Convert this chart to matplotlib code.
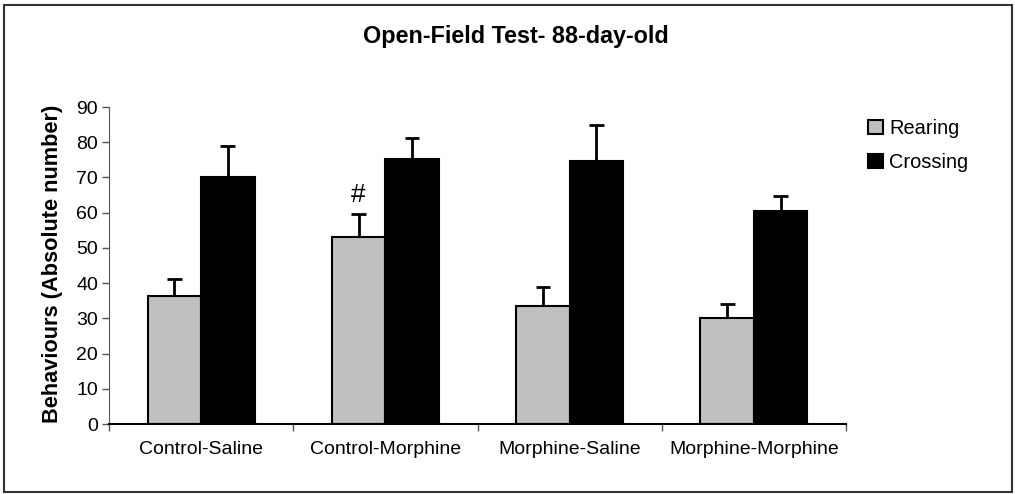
import matplotlib
matplotlib.use("Agg")
import matplotlib.pyplot as plt
from matplotlib.patches import Rectangle
import numpy as np

plt.rcParams["font.family"] = ["Liberation Sans", "DejaVu Sans"]

groups = ["Control-Saline", "Control-Morphine", "Morphine-Saline", "Morphine-Morphine"]
rearing = [36.4, 53.2, 33.6, 30.2]
rearing_err = [4.8, 6.5, 5.4, 3.8]
crossing = [70.2, 75.3, 74.6, 60.4]
crossing_err = [8.8, 5.8, 10.3, 4.2]
marks = ["", "#", "", ""]

W, H = 1015, 494
fig = plt.figure(figsize=(W / 100, H / 100), dpi=100)
# outer frame
fig.patches.append(Rectangle((4 / W, 2 / H), 1008 / W, 487 / H, transform=fig.transFigure,
                             fill=False, edgecolor="#333333", linewidth=1.5))

ax = fig.add_axes([109 / W, 1 - 424 / H, (846 - 109) / W, (424 - 107) / H])

x = np.arange(len(groups))
bw = 0.29
cap = 0.04
for pos, vals, errs, col, lab in [(x - bw / 2, rearing, rearing_err, "#c0c0c0", "Rearing"),
                                  (x + bw / 2, crossing, crossing_err, "black", "Crossing")]:
    vals = np.array(vals)
    tops = vals + np.array(errs)
    ax.bar(pos, vals, bw, color=col, edgecolor="black", linewidth=1.5, label=lab, zorder=2)
    # upper-only error bars
    ax.vlines(pos, vals, tops, color="black", linewidth=2, zorder=3)
    ax.hlines(tops, pos - cap, pos + cap, color="black", linewidth=2, zorder=3)

for i, m in enumerate(marks):
    if m:
        ax.text(x[i] - bw / 2, rearing[i] + rearing_err[i] + 1.8, m, ha="center",
                va="bottom", fontsize=19)

ax.set_xlim(-0.5, len(groups) - 0.5)
ax.set_ylim(0, 90)
ax.set_yticks(range(0, 91, 10))
ax.set_xticks(x)
ax.set_xticklabels(groups, fontsize=14)
ax.set_xticks(np.arange(-0.5, len(groups)), minor=True)
ax.tick_params(axis="x", which="major", length=0, pad=12)
ax.tick_params(axis="x", which="minor", length=5, width=1, color="#555555")
ax.tick_params(axis="y", length=5, width=1, color="#555555", labelsize=14, pad=3)
for s in ["top", "right"]:
    ax.spines[s].set_visible(False)
ax.spines["left"].set_color("#555555")
ax.spines["bottom"].set_color("black")
ax.spines["bottom"].set_linewidth(1.5)

ax.set_ylabel("Behaviours (Absolute number)", fontsize=15.7, fontweight="bold")
ax.yaxis.set_label_coords((63 - 109) / 737, (424 - 264) / 317)
fig.text(516 / W, 1 - 43 / H, "Open-Field Test- 88-day-old", ha="center", va="baseline",
         fontsize=16.8, fontweight="bold")

ax.legend(loc="upper left", bbox_to_anchor=(868 / W, 1 - 119 / H), bbox_transform=fig.transFigure,
          frameon=False, fontsize=14.4, handlelength=0.75, handleheight=0.75,
          handletextpad=0.3, labelspacing=0.75, borderpad=0, borderaxespad=0)

fig.savefig("out.png", dpi=100)
